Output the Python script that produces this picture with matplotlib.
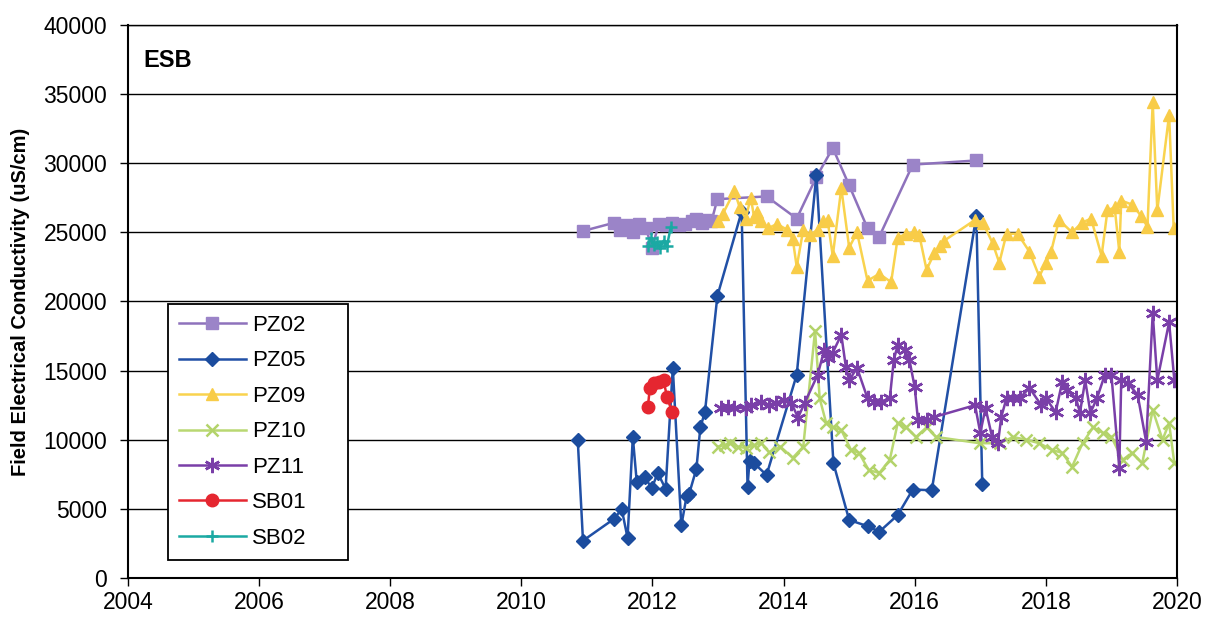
import matplotlib

matplotlib.use("Agg")
import matplotlib.pyplot as plt

plt.rcParams["font.family"] = ["Liberation Sans", "DejaVu Sans"]

# data (decimal year, uS/cm)
pz02_years = [2010.94, 2011.42, 2011.5, 2011.6, 2011.7, 2011.8, 2011.9, 2011.99, 2012.1, 2012.2,
              2012.3, 2012.4, 2012.5, 2012.6, 2012.67, 2012.75, 2012.83, 2012.9, 2012.99, 2013.74,
              2014.2, 2014.5, 2014.75, 2015.0, 2015.28, 2015.46, 2015.97, 2016.94]
pz02_vals = [25100, 25700, 25200, 25500, 25000, 25600, 25300, 23900, 25600, 25500,
             25700, 25500, 25600, 25800, 26000, 25700, 25900, 25800, 27400, 27600,
             26000, 29000, 31100, 28400, 25300, 24700, 29900, 30200]

pz05_years = [2010.86, 2010.94, 2011.42, 2011.53, 2011.62, 2011.7, 2011.76, 2011.88, 2011.99, 2012.08,
              2012.2, 2012.31, 2012.44, 2012.52, 2012.56, 2012.67, 2012.73, 2012.8, 2012.99, 2013.36,
              2013.45, 2013.48, 2013.55, 2013.74, 2014.2, 2014.5, 2014.76, 2015.0, 2015.28, 2015.46,
              2015.74, 2015.97, 2016.26, 2016.94, 2017.03]
pz05_vals = [10000, 2700, 4300, 5000, 2900, 10200, 6950, 7300, 6500, 7600,
             6450, 15200, 3800, 5900, 6100, 7900, 10900, 12000, 20400, 26500,
             6600, 8500, 8300, 7450, 14700, 29150, 8300, 4200, 3750, 3350,
             4550, 6400, 6350, 26200, 6800]

pz09_years = [2013.0, 2013.07, 2013.25, 2013.33, 2013.42, 2013.5, 2013.55, 2013.6, 2013.66, 2013.76,
              2013.9, 2014.05, 2014.14, 2014.2, 2014.3, 2014.4, 2014.52, 2014.6, 2014.67, 2014.75,
              2014.88, 2015.0, 2015.12, 2015.28, 2015.46, 2015.64, 2015.74, 2015.87, 2015.99, 2016.07,
              2016.18, 2016.3, 2016.38, 2016.45, 2016.92, 2017.04, 2017.19, 2017.29, 2017.4, 2017.57,
              2017.75, 2017.9, 2018.0, 2018.08, 2018.2, 2018.4, 2018.55, 2018.69, 2018.85, 2018.94,
              2019.05, 2019.12, 2019.15, 2019.32, 2019.45, 2019.55, 2019.63, 2019.7, 2019.88, 2019.95]
pz09_vals = [25800, 26300, 28000, 26800, 26000, 27500, 26100, 26500, 25800, 25300,
             25600, 25200, 24500, 22500, 25200, 24800, 25200, 25800, 25900, 23300,
             28200, 23900, 25000, 21500, 22000, 21400, 24600, 24900, 25000, 24800,
             22300, 23500, 24000, 24400, 25900, 25700, 24200, 22800, 24900, 24900,
             23600, 21800, 22800, 23600, 25900, 25000, 25700, 26000, 23300, 26600,
             26800, 23600, 27300, 27000, 26200, 25400, 34400, 26600, 33500, 25300]

pz10_years = [2013.0, 2013.1, 2013.18, 2013.3, 2013.43, 2013.55, 2013.66, 2013.78, 2013.95, 2014.14,
              2014.3, 2014.48, 2014.55, 2014.65, 2014.75, 2014.88, 2015.03, 2015.15, 2015.3, 2015.46,
              2015.62, 2015.74, 2015.87, 2016.02, 2016.18, 2016.33, 2016.99, 2017.3, 2017.5, 2017.7,
              2017.9, 2018.1, 2018.25, 2018.4, 2018.56, 2018.72, 2018.87, 2019.0, 2019.17, 2019.32,
              2019.47, 2019.63, 2019.78, 2019.88, 2019.96]
pz10_vals = [9500, 9600, 9750, 9500, 9400, 9600, 9750, 9100, 9500, 8700,
             9500, 17900, 13000, 11200, 10900, 10700, 9250, 9050, 7800, 7600,
             8550, 11200, 10900, 10200, 10900, 10200, 9750, 9750, 10200, 10000,
             9750, 9250, 9050, 8050, 9750, 10900, 10500, 10200, 8550, 9050,
             8300, 12150, 10000, 11200, 8300]

pz11_years = [2013.05, 2013.15, 2013.25, 2013.43, 2013.5, 2013.66, 2013.78, 2013.88, 2014.0, 2014.12,
              2014.22, 2014.32, 2014.52, 2014.62, 2014.67, 2014.75, 2014.88, 2014.95, 2015.0, 2015.12,
              2015.28, 2015.38, 2015.48, 2015.62, 2015.68, 2015.74, 2015.85, 2015.92, 2016.0, 2016.05,
              2016.18, 2016.3, 2016.92, 2017.0, 2017.08, 2017.18, 2017.27, 2017.32, 2017.4, 2017.5,
              2017.6, 2017.75, 2017.93, 2018.0, 2018.15, 2018.25, 2018.32, 2018.46, 2018.52, 2018.6,
              2018.68, 2018.78, 2018.9, 2019.0, 2019.12, 2019.15, 2019.25, 2019.4, 2019.53, 2019.63,
              2019.7, 2019.88, 2019.96]
pz11_vals = [12300, 12400, 12300, 12300, 12500, 12750, 12500, 12650, 12900, 12650,
             11600, 12650, 14700, 16500, 15900, 16300, 17600, 15250, 14300, 15200,
             13000, 12750, 12750, 13000, 15750, 16850, 16500, 15750, 13800, 11400,
             11400, 11650, 12500, 10500, 12300, 10200, 9750, 11650, 13000, 13000,
             13000, 13750, 12500, 13000, 12000, 14200, 13600, 13000, 11950, 14300,
             11950, 13000, 14700, 14700, 7950, 14300, 14100, 13250, 9850, 19150,
             14300, 18500, 14300]

sb01_years = [2011.93, 2011.96, 2012.03, 2012.1, 2012.17, 2012.22, 2012.3]
sb01_vals = [12400, 13750, 14100, 14200, 14300, 13100, 12000]

sb02_years = [2011.93, 2011.97, 2012.02, 2012.07, 2012.12, 2012.17, 2012.22, 2012.28]
sb02_vals = [24000, 24600, 24100, 24300, 23900, 24400, 24000, 25400]

x_ticks = list(range(2004, 2021, 2))
y_ticks = list(range(0, 40001, 5000))

fig = plt.figure(figsize=(12.12, 6.21), dpi=100)
ax = fig.add_axes([0.1056, 0.0692, 0.8655, 0.8906])

ax.plot(pz02_years, pz02_vals, color="#8E72BC", lw=1.8, marker="s", ms=9,
        mfc="#9B84C8", mec="#9B84C8", label="PZ02")
ax.plot(pz05_years, pz05_vals, color="#2150A6", lw=1.8, marker="D", ms=7,
        mfc="#1B4C9E", mec="#1B4C9E", label="PZ05")
ax.plot(pz09_years, pz09_vals, color="#F9D34E", lw=1.8, marker="^", ms=8,
        mfc="#F8CC48", mec="#F8CC48", label="PZ09")
ax.plot(pz10_years, pz10_vals, color="#B9D872", lw=1.8, marker="x", ms=8, mew=1.8,
        mec="#B3D36A", label="PZ10")
ax.plot(pz11_years, pz11_vals, color="#7A3FA8", lw=1.8, marker=(6, 2, 0), ms=11, mew=1.8,
        mec="#7A3FA8", label="PZ11")
ax.plot(sb01_years, sb01_vals, color="#E52630", lw=1.8, marker="o", ms=9,
        mfc="#E52630", mec="#E52630", label="SB01")
ax.plot(sb02_years, sb02_vals, color="#1BA9A3", lw=1.8, marker="+", ms=8, mew=1.8,
        mec="#1BA9A3", label="SB02")

ax.set_xlim(2004, 2020)
ax.set_ylim(0, 40000)
ax.set_xticks(x_ticks)
ax.set_yticks(y_ticks)
ax.tick_params(axis="both", labelsize=16.5, direction="out", length=6, width=1, color="black")
ax.tick_params(axis="y", pad=9)
ax.yaxis.grid(True, color="black", lw=1)
ax.set_axisbelow(True)
for sp in ax.spines.values():
    sp.set_color("black")
    sp.set_linewidth(1.5)
ax.spines["top"].set_linewidth(1)

ax.set_ylabel("Field Electrical Conductivity (uS/cm)", fontsize=14.5, fontweight="bold", labelpad=10)
ax.text(0.015, 0.935, "ESB", transform=ax.transAxes, fontsize=17, fontweight="bold", va="center")

leg = ax.legend(loc="lower left", bbox_to_anchor=(0.038, 0.033, 0.172, 0.49), mode="expand",
                fontsize=16, frameon=True, fancybox=False, edgecolor="black", framealpha=1,
                handlelength=3.0, handletextpad=0.3, labelspacing=0.65, borderaxespad=0, borderpad=0.5)
leg.get_frame().set_linewidth(1.3)

fig.savefig("out.png", dpi=100)
